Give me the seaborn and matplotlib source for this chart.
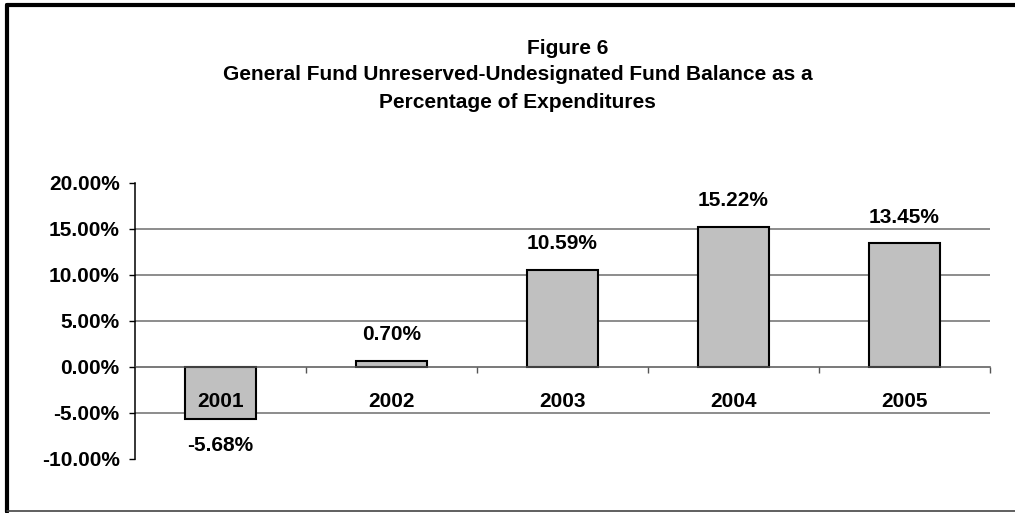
import pandas as pd
import matplotlib.pyplot as plt
import seaborn as sns
from matplotlib.lines import Line2D
from matplotlib.ticker import FixedLocator, FuncFormatter

# chart data
years = ['2001', '2002', '2003', '2004', '2005']
pct = [-5.68, 0.70, 10.59, 15.22, 13.45]
y_ticks = [-10, -5, 0, 5, 10, 15, 20]
title_top = 'Figure 6'
title_lines = ['General Fund Unreserved-Undesignated Fund Balance as a',
               'Percentage of Expenditures']

sns.set_style('white')
plt.rcParams['font.family'] = ['Liberation Sans', 'DejaVu Sans']
plt.rcParams['font.weight'] = 'bold'
plt.rcParams['text.color'] = 'black'
plt.rcParams['xtick.color'] = 'black'
plt.rcParams['ytick.color'] = 'black'

df = pd.DataFrame({'year': years, 'pct': pct})

fig = plt.figure(figsize=(10.15, 5.13), dpi=100)
ax = fig.add_axes([0.133, 0.1053, 0.8424, 0.538])

sns.barplot(data=df, x='year', y='pct', color='#C0C0C0', saturation=1,
            width=0.415, edgecolor='black', linewidth=1.5, ax=ax, zorder=2)
ax.set_axisbelow(False)  # year labels sit on top of the bars

ax.set_ylim(-10, 20)
ax.set_xlim(-0.5, len(years) - 0.5)
ax.set_xlabel('')
ax.set_ylabel('')

# y axis
ax.yaxis.set_major_locator(FixedLocator(y_ticks))
ax.yaxis.set_major_formatter(FuncFormatter(lambda v, p: f'{v:.2f}%'))
ax.tick_params(axis='y', which='major', left=True, length=4, width=1,
               color='black', pad=7, labelsize=15)
for v in y_ticks:
    if v not in (y_ticks[0], y_ticks[-1], 0):
        ax.axhline(v, color='#6e6e6e', linewidth=1.1, zorder=1)

# x axis at zero, ticks between categories, labels centred
ax.spines['bottom'].set_position(('data', 0))
ax.spines['bottom'].set_color('#555555')
ax.spines['bottom'].set_linewidth(1.1)
ax.spines['left'].set_color('black')
ax.spines['left'].set_linewidth(1.1)
ax.spines['top'].set_visible(False)
ax.spines['right'].set_visible(False)

n = len(years)
ax.xaxis.set_major_locator(FixedLocator([i + 0.5 for i in range(n)]))
ax.xaxis.set_major_formatter(FuncFormatter(lambda v, p: ''))
ax.xaxis.set_minor_locator(FixedLocator(list(range(n))))
ax.xaxis.set_minor_formatter(FuncFormatter(lambda v, p: years[int(round(v))]))
ax.tick_params(axis='x', which='major', bottom=True, length=4, width=1,
               color='#555555')
ax.tick_params(axis='x', which='minor', bottom=True, length=0, pad=18,
               labelsize=15)

# value labels
for cont in ax.containers:
    ax.bar_label(cont, labels=[f'{v:.2f}%' for v in pct], padding=12,
                 fontsize=15, fontweight='bold')

# title
fig.text(0.559, 0.905, title_top, ha='center', va='center',
         fontsize=15, fontweight='bold')
for i, line in enumerate(title_lines):
    fig.text(0.510, 0.854 - i * 0.053, line, ha='center', va='center',
             fontsize=15, fontweight='bold')

# outer frame
fig.add_artist(Line2D([0.0065, 0.0065], [0.002, 0.990], color='black',
                      linewidth=3, transform=fig.transFigure))
fig.add_artist(Line2D([0.0065, 1.0], [0.990, 0.990], color='black',
                      linewidth=3, transform=fig.transFigure))
fig.add_artist(Line2D([0.0065, 1.0], [0.003, 0.003], color='#444444',
                      linewidth=1.2, transform=fig.transFigure))

fig.savefig('out.png', dpi=100)
